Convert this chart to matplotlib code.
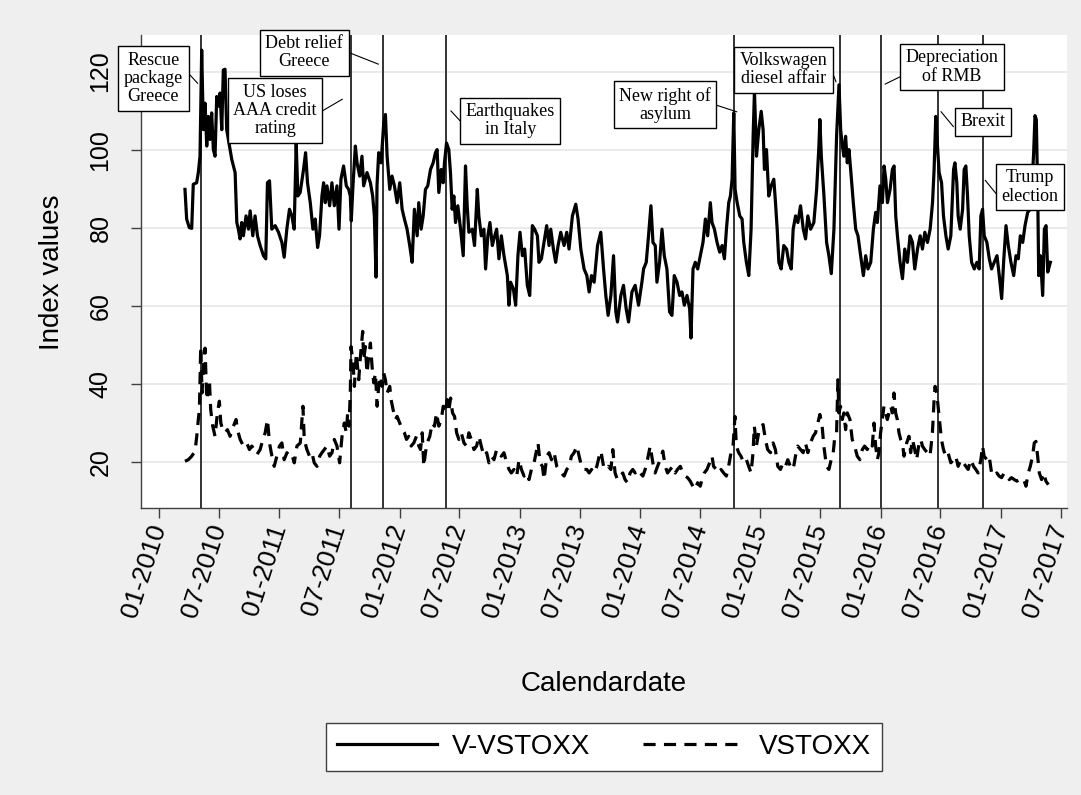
import numpy as np
import pandas as pd
import matplotlib
matplotlib.use('Agg')
import matplotlib.pyplot as plt

plt.rcParams['font.family'] = ['Liberation Sans', 'DejaVu Sans']

# V-VSTOXX (time in decimal years, index value)
vv_t = [2010.214, 2010.228, 2010.250, 2010.270, 2010.283, 2010.311, 2010.325, 2010.339, 2010.353, 2010.367,
        2010.381, 2010.395, 2010.408, 2010.422, 2010.436, 2010.450, 2010.464, 2010.478, 2010.492, 2010.506,
        2010.520, 2010.533, 2010.547, 2010.561, 2010.575, 2010.603, 2010.631, 2010.645, 2010.658, 2010.672,
        2010.686, 2010.700, 2010.722, 2010.742, 2010.756, 2010.778, 2010.797, 2010.817, 2010.839, 2010.867,
        2010.886, 2010.900, 2010.917, 2010.936, 2010.964, 2010.992, 2011.020, 2011.039, 2011.061, 2011.083,
        2011.103, 2011.122, 2011.139, 2011.153, 2011.172, 2011.200, 2011.217, 2011.233, 2011.256, 2011.278,
        2011.297, 2011.317, 2011.333, 2011.353, 2011.367, 2011.381, 2011.395, 2011.417, 2011.436, 2011.456,
        2011.478, 2011.495, 2011.511, 2011.533, 2011.556, 2011.575, 2011.589, 2011.597, 2011.611, 2011.631,
        2011.645, 2011.667, 2011.686, 2011.700, 2011.728, 2011.756, 2011.775, 2011.789, 2011.803, 2011.811,
        2011.825, 2011.845, 2011.867, 2011.881, 2011.895, 2011.917, 2011.936, 2011.956, 2011.978, 2012.000,
        2012.020, 2012.039, 2012.061, 2012.083, 2012.103, 2012.122, 2012.145, 2012.158, 2012.178, 2012.195,
        2012.214, 2012.233, 2012.256, 2012.278, 2012.297, 2012.311, 2012.325, 2012.345, 2012.361, 2012.372,
        2012.389, 2012.408, 2012.422, 2012.436, 2012.450, 2012.464, 2012.483, 2012.506, 2012.528, 2012.547,
        2012.561, 2012.575, 2012.603, 2012.622, 2012.645, 2012.658, 2012.678, 2012.700, 2012.714, 2012.733,
        2012.750, 2012.770, 2012.783, 2012.806, 2012.825, 2012.845, 2012.867, 2012.895, 2012.908, 2012.922,
        2012.945, 2012.964, 2012.983, 2013.000, 2013.020, 2013.039, 2013.061, 2013.081, 2013.103, 2013.122,
        2013.145, 2013.158, 2013.178, 2013.200, 2013.222, 2013.242, 2013.256, 2013.278, 2013.297, 2013.317,
        2013.339, 2013.367, 2013.389, 2013.408, 2013.436, 2013.464, 2013.483, 2013.506, 2013.533, 2013.556,
        2013.575, 2013.595, 2013.617, 2013.645, 2013.672, 2013.695, 2013.714, 2013.733, 2013.756, 2013.778,
        2013.797, 2013.811, 2013.839, 2013.861, 2013.883, 2013.903, 2013.931, 2013.958, 2013.986, 2014.014,
        2014.028, 2014.050, 2014.069, 2014.089, 2014.106, 2014.125, 2014.139, 2014.161, 2014.181, 2014.200,
        2014.222, 2014.244, 2014.264, 2014.283, 2014.306, 2014.328, 2014.347, 2014.367, 2014.389, 2014.411,
        2014.422, 2014.439, 2014.458, 2014.478, 2014.500, 2014.522, 2014.542, 2014.561, 2014.583, 2014.597,
        2014.617, 2014.639, 2014.661, 2014.681, 2014.700, 2014.717, 2014.736, 2014.750, 2014.764, 2014.778,
        2014.789, 2014.806, 2014.828, 2014.847, 2014.861, 2014.883, 2014.903, 2014.922, 2014.939, 2014.950,
        2014.967, 2014.986, 2015.006, 2015.022, 2015.033, 2015.050, 2015.069, 2015.089, 2015.111, 2015.125,
        2015.139, 2015.153, 2015.172, 2015.194, 2015.217, 2015.236, 2015.256, 2015.272, 2015.292, 2015.311,
        2015.333, 2015.356, 2015.375, 2015.394, 2015.417, 2015.444, 2015.467, 2015.486, 2015.494, 2015.506,
        2015.528, 2015.550, 2015.569, 2015.589, 2015.611, 2015.633, 2015.653, 2015.667, 2015.681, 2015.694,
        2015.708, 2015.722, 2015.736, 2015.750, 2015.772, 2015.792, 2015.811, 2015.833, 2015.856, 2015.875,
        2015.894, 2015.917, 2015.939, 2015.958, 2015.972, 2015.994, 2016.014, 2016.028, 2016.042, 2016.056,
        2016.078, 2016.097, 2016.111, 2016.125, 2016.139, 2016.161, 2016.181, 2016.200, 2016.222, 2016.244,
        2016.264, 2016.283, 2016.306, 2016.328, 2016.347, 2016.367, 2016.389, 2016.411, 2016.431, 2016.444,
        2016.458, 2016.472, 2016.486, 2016.506, 2016.522, 2016.542, 2016.561, 2016.583, 2016.606, 2016.617,
        2016.633, 2016.644, 2016.661, 2016.681, 2016.694, 2016.708, 2016.722, 2016.736, 2016.756, 2016.778,
        2016.800, 2016.819, 2016.833, 2016.847, 2016.861, 2016.883, 2016.903, 2016.922, 2016.944, 2016.967,
        2016.986, 2017.006, 2017.022, 2017.042, 2017.061, 2017.083, 2017.106, 2017.125, 2017.144, 2017.161,
        2017.181, 2017.200, 2017.222, 2017.244, 2017.256, 2017.272, 2017.283, 2017.294, 2017.306, 2017.314,
        2017.328, 2017.347, 2017.361, 2017.375, 2017.389, 2017.411]
vv_val = [89.8, 82.2, 80.0, 79.8, 91.1, 91.5, 94.1, 98.3, 125.5, 105.1,
          111.9, 100.9, 108.5, 102.6, 109.4, 100.0, 98.3, 113.6, 111.1, 114.5,
          105.1, 120.4, 120.6, 105.1, 102.6, 97.5, 94.1, 81.3, 79.6, 77.1,
          81.3, 77.9, 83.0, 79.6, 84.3, 77.9, 83.0, 77.9, 75.4, 72.8,
          72.0, 91.5, 92.0, 79.6, 80.5, 78.8, 76.2, 72.4, 79.6, 84.7,
          83.0, 79.6, 101.7, 88.1, 89.0, 94.9, 99.2, 91.5, 86.4, 79.6,
          82.2, 74.9, 77.9, 88.1, 91.5, 86.4, 90.7, 85.6, 91.5, 85.6,
          90.7, 79.6, 92.4, 95.8, 90.7, 89.8, 88.1, 81.7, 90.7, 100.9,
          96.6, 93.2, 98.3, 90.7, 94.1, 91.5, 88.1, 83.0, 67.3, 90.7,
          99.2, 96.6, 106.8, 109.0, 98.3, 89.8, 93.2, 90.7, 86.4, 91.5,
          84.7, 82.2, 79.6, 75.4, 71.1, 84.7, 77.9, 86.4, 79.6, 83.0,
          89.8, 90.7, 94.9, 96.6, 99.2, 100.0, 89.0, 94.9, 91.5, 96.6,
          101.7, 100.0, 94.1, 84.7, 88.1, 81.3, 85.6, 79.6, 72.8, 95.8,
          85.6, 78.8, 79.6, 75.4, 89.8, 83.0, 77.9, 79.6, 69.4, 77.9,
          81.3, 75.4, 77.1, 79.6, 72.0, 77.9, 72.8, 67.7, 60.1, 66.0,
          64.3, 60.1, 72.8, 78.8, 72.8, 74.5, 65.2, 62.6, 80.5, 79.6,
          77.9, 71.1, 72.0, 76.2, 80.5, 75.4, 79.6, 74.5, 71.1, 75.4,
          78.8, 75.4, 78.8, 74.5, 83.0, 86.0, 82.2, 74.5, 69.4, 67.7,
          63.5, 67.7, 66.0, 75.4, 78.8, 69.4, 62.6, 57.5, 62.6, 72.8,
          58.4, 55.8, 62.6, 65.2, 59.2, 55.8, 63.5, 65.2, 60.1, 66.0,
          69.4, 71.1, 77.9, 85.6, 76.2, 75.4, 66.0, 71.1, 79.6, 72.8,
          69.4, 58.4, 57.5, 67.7, 66.0, 62.6, 63.5, 60.1, 62.6, 59.2,
          51.7, 69.4, 71.1, 69.4, 72.8, 76.2, 82.2, 77.9, 86.4, 81.3,
          79.6, 76.2, 73.7, 75.4, 72.0, 79.6, 86.4, 88.1, 92.4, 109.4,
          89.8, 86.4, 83.0, 82.2, 76.2, 71.1, 67.7, 79.6, 103.4, 114.9,
          98.3, 105.1, 109.8, 105.1, 94.9, 100.0, 88.1, 90.7, 92.4, 86.4,
          79.6, 71.1, 69.4, 75.4, 74.5, 71.1, 69.4, 79.6, 83.0, 81.3,
          85.6, 79.6, 77.1, 83.0, 79.6, 81.3, 89.8, 100.9, 107.7, 98.3,
          88.1, 76.2, 72.8, 68.2, 79.6, 103.4, 116.6, 105.1, 100.9, 98.3,
          103.4, 96.6, 100.0, 94.9, 86.4, 79.6, 77.9, 72.8, 67.7, 72.8,
          69.4, 71.1, 79.6, 83.9, 81.3, 90.7, 86.4, 95.8, 92.4, 86.4,
          89.8, 94.9, 95.8, 83.0, 77.9, 71.1, 66.9, 74.5, 71.1, 77.9,
          76.2, 69.4, 74.5, 77.9, 74.5, 78.8, 76.2, 79.6, 86.4, 94.9,
          108.5, 100.9, 94.1, 91.5, 83.0, 77.9, 74.5, 77.9, 94.9, 96.6,
          91.5, 83.0, 79.6, 84.7, 94.9, 95.8, 88.1, 77.9, 71.1, 69.4,
          71.1, 69.4, 83.0, 84.7, 77.9, 76.2, 72.0, 69.4, 71.1, 72.8,
          67.7, 61.8, 71.1, 80.5, 75.4, 71.1, 67.7, 72.8, 72.0, 77.9,
          76.2, 80.5, 83.9, 84.7, 89.8, 99.2, 108.7, 107.7, 88.1, 67.7,
          72.8, 62.6, 79.6, 80.5, 68.6, 71.1]

# VSTOXX (time in decimal years, index value)
vs_t = [2010.214, 2010.242, 2010.270, 2010.298, 2010.312, 2010.325, 2010.334, 2010.345, 2010.356, 2010.367,
        2010.381, 2010.395, 2010.417, 2010.428, 2010.445, 2010.464, 2010.484, 2010.500, 2010.512, 2010.528,
        2010.548, 2010.567, 2010.589, 2010.617, 2010.639, 2010.650, 2010.673, 2010.700, 2010.728, 2010.750,
        2010.770, 2010.789, 2010.812, 2010.839, 2010.862, 2010.881, 2010.900, 2010.917, 2010.937, 2010.956,
        2010.978, 2011.000, 2011.020, 2011.039, 2011.062, 2011.084, 2011.103, 2011.123, 2011.145, 2011.173,
        2011.195, 2011.206, 2011.228, 2011.250, 2011.270, 2011.289, 2011.312, 2011.334, 2011.353, 2011.373,
        2011.395, 2011.417, 2011.437, 2011.456, 2011.478, 2011.500, 2011.520, 2011.539, 2011.556, 2011.567,
        2011.578, 2011.589, 2011.595, 2011.612, 2011.623, 2011.639, 2011.659, 2011.673, 2011.692, 2011.700,
        2011.714, 2011.728, 2011.742, 2011.756, 2011.770, 2011.784, 2011.798, 2011.812, 2011.825, 2011.839,
        2011.853, 2011.867, 2011.881, 2011.895, 2011.917, 2011.928, 2011.945, 2011.964, 2011.978, 2012.000,
        2012.020, 2012.039, 2012.056, 2012.075, 2012.095, 2012.117, 2012.139, 2012.159, 2012.173, 2012.187,
        2012.200, 2012.214, 2012.228, 2012.250, 2012.270, 2012.289, 2012.306, 2012.325, 2012.345, 2012.362,
        2012.378, 2012.395, 2012.409, 2012.423, 2012.439, 2012.456, 2012.473, 2012.492, 2012.512, 2012.534,
        2012.556, 2012.575, 2012.595, 2012.617, 2012.639, 2012.659, 2012.678, 2012.700, 2012.723, 2012.742,
        2012.762, 2012.784, 2012.806, 2012.825, 2012.845, 2012.867, 2012.889, 2012.909, 2012.928, 2012.950,
        2012.973, 2012.992, 2013.012, 2013.034, 2013.056, 2013.075, 2013.095, 2013.117, 2013.139, 2013.150,
        2013.167, 2013.187, 2013.200, 2013.223, 2013.242, 2013.262, 2013.284, 2013.306, 2013.325, 2013.345,
        2013.367, 2013.389, 2013.409, 2013.428, 2013.450, 2013.473, 2013.492, 2013.512, 2013.534, 2013.556,
        2013.575, 2013.595, 2013.617, 2013.639, 2013.659, 2013.673, 2013.695, 2013.714, 2013.734, 2013.756,
        2013.772, 2013.791, 2013.810, 2013.833, 2013.855, 2013.874, 2013.894, 2013.916, 2013.938, 2013.958,
        2013.977, 2013.999, 2014.022, 2014.041, 2014.060, 2014.083, 2014.105, 2014.124, 2014.144, 2014.166,
        2014.188, 2014.208, 2014.227, 2014.249, 2014.272, 2014.291, 2014.310, 2014.333, 2014.355, 2014.374,
        2014.394, 2014.416, 2014.438, 2014.458, 2014.477, 2014.499, 2014.513, 2014.533, 2014.555, 2014.577,
        2014.597, 2014.610, 2014.633, 2014.652, 2014.672, 2014.694, 2014.716, 2014.735, 2014.755, 2014.772,
        2014.788, 2014.799, 2014.819, 2014.838, 2014.860, 2014.883, 2014.902, 2014.922, 2014.938, 2014.949,
        2014.966, 2014.985, 2015.005, 2015.022, 2015.041, 2015.060, 2015.083, 2015.105, 2015.124, 2015.144,
        2015.166, 2015.188, 2015.208, 2015.227, 2015.249, 2015.272, 2015.291, 2015.310, 2015.333, 2015.355,
        2015.374, 2015.394, 2015.416, 2015.438, 2015.458, 2015.477, 2015.494, 2015.513, 2015.527, 2015.549,
        2015.569, 2015.588, 2015.605, 2015.616, 2015.633, 2015.644, 2015.652, 2015.666, 2015.680, 2015.694,
        2015.708, 2015.722, 2015.744, 2015.763, 2015.783, 2015.805, 2015.827, 2015.847, 2015.866, 2015.888,
        2015.910, 2015.930, 2015.944, 2015.958, 2015.972, 2015.985, 2015.999, 2016.013, 2016.027, 2016.041,
        2016.055, 2016.069, 2016.083, 2016.097, 2016.110, 2016.124, 2016.138, 2016.152, 2016.166, 2016.180,
        2016.194, 2016.216, 2016.235, 2016.249, 2016.263, 2016.277, 2016.299, 2016.319, 2016.333, 2016.347,
        2016.366, 2016.388, 2016.410, 2016.430, 2016.444, 2016.452, 2016.466, 2016.477, 2016.494, 2016.505,
        2016.522, 2016.541, 2016.560, 2016.583, 2016.605, 2016.624, 2016.644, 2016.666, 2016.688, 2016.708,
        2016.727, 2016.749, 2016.772, 2016.791, 2016.810, 2016.833, 2016.847, 2016.860, 2016.883, 2016.902,
        2016.922, 2016.944, 2016.966, 2016.985, 2017.005, 2017.027, 2017.049, 2017.069, 2017.088, 2017.110,
        2017.133, 2017.152, 2017.172, 2017.194, 2017.208, 2017.227, 2017.244, 2017.263, 2017.277, 2017.291,
        2017.305, 2017.319, 2017.338, 2017.355, 2017.374, 2017.394]
vs_val = [20.1, 20.5, 21.4, 22.7, 26.5, 30.8, 33.3, 49.5, 37.6, 44.4,
          49.1, 35.9, 41.0, 33.3, 29.1, 26.5, 32.5, 35.5, 29.9, 28.2,
          27.4, 28.2, 26.5, 29.1, 30.8, 28.2, 25.7, 24.0, 24.8, 23.1,
          24.0, 23.1, 21.8, 23.1, 25.7, 27.4, 30.8, 24.8, 21.4, 18.8,
          21.4, 24.0, 24.8, 20.5, 22.3, 21.4, 21.8, 19.7, 24.0, 24.8,
          34.2, 25.7, 23.1, 21.4, 22.3, 19.7, 18.8, 21.4, 22.3, 23.1,
          24.0, 21.4, 22.3, 25.7, 24.0, 19.7, 26.5, 29.9, 27.4, 32.5,
          29.1, 37.6, 49.5, 45.3, 39.3, 47.8, 41.0, 47.0, 53.4, 46.1,
          49.5, 42.7, 47.0, 50.4, 44.4, 40.2, 42.7, 34.2, 39.3, 41.9,
          39.3, 42.7, 41.0, 37.6, 39.3, 35.9, 33.3, 30.8, 31.6, 29.9,
          28.2, 27.4, 25.7, 26.5, 24.0, 24.8, 26.5, 24.0, 23.1, 27.4,
          18.8, 22.3, 24.8, 26.5, 29.9, 29.1, 32.5, 29.1, 30.8, 34.2,
          32.5, 35.9, 33.3, 36.3, 32.5, 31.6, 27.4, 25.7, 27.4, 24.8,
          24.0, 27.4, 25.7, 23.1, 24.0, 26.5, 24.0, 21.4, 22.3, 19.7,
          21.4, 20.5, 23.1, 22.3, 21.4, 22.3, 19.7, 18.0, 17.1, 18.0,
          16.3, 20.5, 18.0, 16.3, 17.1, 15.4, 18.0, 19.7, 23.1, 24.8,
          19.7, 18.8, 15.4, 21.4, 22.3, 20.5, 22.3, 18.8, 18.0, 17.1,
          16.3, 18.0, 18.8, 21.4, 22.3, 24.0, 21.4, 18.8, 18.0, 18.0,
          17.1, 18.0, 17.1, 18.8, 21.4, 22.7, 18.8, 18.0, 18.8, 18.0,
          23.1, 17.1, 15.4, 16.3, 17.1, 15.4, 14.6, 17.1, 18.0, 17.1,
          18.0, 17.1, 16.3, 18.0, 20.5, 24.0, 19.7, 17.1, 18.8, 20.5,
          22.7, 18.8, 17.1, 18.0, 18.8, 17.1, 18.0, 18.8, 17.1, 16.3,
          15.9, 15.0, 13.7, 12.9, 14.6, 13.7, 15.4, 17.1, 18.0, 19.7,
          21.4, 18.8, 18.0, 17.1, 18.0, 17.1, 16.3, 18.8, 22.3, 24.0,
          31.6, 24.0, 22.3, 21.4, 19.7, 20.5, 18.8, 17.1, 22.3, 29.1,
          24.0, 27.4, 29.1, 29.5, 25.7, 23.1, 22.3, 24.8, 23.1, 18.8,
          18.0, 19.7, 18.8, 20.5, 18.8, 18.0, 21.4, 24.0, 23.1, 22.3,
          24.8, 22.3, 24.8, 26.5, 27.4, 29.9, 32.1, 29.1, 24.0, 18.8,
          18.0, 20.5, 22.3, 25.7, 27.4, 41.0, 32.5, 34.2, 30.8, 32.5,
          28.2, 32.5, 30.8, 25.7, 24.0, 21.4, 20.5, 23.1, 24.0, 23.1,
          24.8, 24.0, 29.9, 24.0, 20.5, 22.3, 27.4, 30.8, 34.2, 32.5,
          30.8, 32.5, 34.2, 32.5, 37.6, 32.5, 30.8, 27.4, 25.7, 24.8,
          21.4, 24.8, 26.5, 22.3, 25.7, 24.0, 20.5, 24.8, 25.7, 24.0,
          23.1, 22.3, 21.4, 27.4, 35.9, 39.3, 37.6, 34.2, 29.1, 25.7,
          23.1, 21.4, 22.3, 19.7, 20.5, 21.4, 18.8, 20.5, 19.7, 18.8,
          18.0, 20.5, 18.8, 18.0, 17.1, 20.5, 24.0, 21.4, 20.5, 21.4,
          17.1, 16.3, 17.1, 16.3, 15.9, 17.1, 16.3, 15.4, 15.9, 15.4,
          15.0, 15.4, 14.6, 15.0, 13.7, 17.1, 18.8, 21.4, 24.8, 25.2,
          21.4, 17.1, 15.4, 17.1, 15.0, 14.1]

# events marked with vertical lines
event_dates = ['2010-05-07', '2011-08-05', '2011-11-12', '2012-05-20', '2014-10-13',
               '2015-09-01', '2016-01-01', '2016-06-23', '2016-11-08']
event_labels = ['Rescue\npackage\nGreece', 'US loses\nAAA credit\nrating', 'Debt relief\nGreece',
                'Earthquakes\nin Italy', 'New right of\nasylum', 'Volkswagen\ndiesel affair',
                'Depreciation\nof RMB', 'Brexit', 'Trump\nelection']

# label box centre and connector (year, value) -- layout only
label_pos = [(2009.952, 118.2), (2010.964, 110.05), (2011.206, 124.8), (2012.919, 107.4),
             (2014.206, 111.5), (2015.191, 120.5), (2016.592, 121.2), (2016.848, 107.1),
             (2017.241, 90.4)]
connectors = [(2010.255, 119.15, 2010.319, 117.0), (2011.356, 109.9, 2011.522, 112.9),
              (2011.592, 124.7, 2011.822, 121.9), (2012.528, 106.5, 2012.426, 109.9),
              (2014.622, 111.5, 2014.802, 109.7), (2015.584, 120.9, 2015.628, 117.4),
              (2016.177, 118.9, 2016.038, 116.8), (2016.604, 105.9, 2016.502, 109.7),
              (2016.957, 88.8, 2016.870, 92.1)]


def to_date(t):
    t = np.asarray(t, dtype=float)
    return pd.Timestamp('2010-01-01') + pd.to_timedelta((t - 2010) * 365.25, unit='D')


fig = plt.figure(figsize=(10.81, 7.95), dpi=100, facecolor='#efefef')
ax = fig.add_axes([0.1304, 0.3614, 0.8564, 0.5952])
ax.set_facecolor('white')

for yv in [20, 40, 60, 80, 100, 120]:
    ax.axhline(yv, color='#e6e6e6', lw=1.2, zorder=0)

for d in event_dates:
    ax.axvline(pd.Timestamp(d), color='#333333', lw=1.4, zorder=1)

ax.plot(to_date(vv_t), vv_val, color='black', lw=2.3, label='V-VSTOXX', zorder=3)
ax.plot(to_date(vs_t), vs_val, color='black', lw=2.3, dashes=(3.8, 2.6), label='VSTOXX', zorder=3)

for lab, (bx, by), (x0, y0, x1, y1) in zip(event_labels, label_pos, connectors):
    ax.plot(to_date([x0, x1]), [y0, y1], color='black', lw=0.8, clip_on=False, zorder=4)
    ax.text(to_date(bx), by, lab, ha='center', va='center', multialignment='center',
            family=['Liberation Serif', 'DejaVu Serif'], fontsize=13, linespacing=1.1,
            bbox=dict(boxstyle='square,pad=0.3', fc='white', ec='black', lw=1.0),
            zorder=5, clip_on=False)

ax.set_xlim(to_date(2009.848), to_date(2017.547))
ax.set_ylim(8.2, 129.5)

ticks = pd.date_range('2010-01-01', '2017-07-01', freq='6MS')
ax.set_xticks(ticks)
ax.set_xticklabels([t.strftime('%m-%Y') for t in ticks], rotation=72, ha='right',
                   va='center', rotation_mode='anchor', fontsize=19)
ax.set_yticks([20, 40, 60, 80, 100, 120])
ax.set_yticklabels(['20', '40', '60', '80', '100', '120'], rotation=90, va='center', fontsize=18)
ax.tick_params(axis='both', direction='out', length=7.5, width=1.0, color='#404040')
ax.tick_params(axis='x', pad=5)
ax.tick_params(axis='y', pad=13)

for s in ['top', 'right']:
    ax.spines[s].set_visible(False)
for s in ['left', 'bottom']:
    ax.spines[s].set_color('#404040')
    ax.spines[s].set_linewidth(1.0)

ax.set_xlabel('Calendardate', fontsize=20, va='center')
ax.xaxis.set_label_coords(0.5, -0.3726)
ax.set_ylabel('Index values', fontsize=20, va='center')
ax.yaxis.set_label_coords(-0.0961, 0.498)

leg = fig.legend(loc='center', bbox_to_anchor=(0.5587, 0.0604), ncol=2, fontsize=20,
                 frameon=True, fancybox=False, edgecolor='#404040', facecolor='white',
                 handlelength=3.6, handletextpad=0.55, columnspacing=1.9, borderpad=0.4)
leg.get_frame().set_linewidth(1.0)
leg.get_frame().set_alpha(1)

fig.savefig('out.png', dpi=100, facecolor=fig.get_facecolor())
